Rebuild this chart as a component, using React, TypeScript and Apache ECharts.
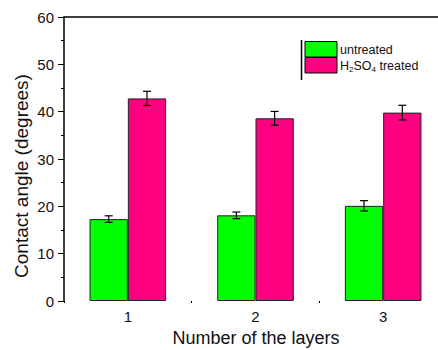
import React, { useEffect, useRef } from "react";
import * as echarts from "echarts";

const categories = ["1", "2", "3"];
const untreated = [17.3, 18.1, 20.1];
const untreatedErr = [0.7, 0.7, 1.1];
const treated = [42.8, 38.6, 39.8];
const treatedErr = [1.5, 1.45, 1.55];
const yTicks = { min: 0, max: 60, interval: 10 };

const GREEN = "#00ff00";
const PINK = "#ff0080";
const FONT = "Liberation Sans, Arial, sans-serif";

function errData(vals: number[], errs: number[]) {
  return vals.map((v, i) => [i, v, errs[i]]);
}

function makeErrRender(offsetFrac: number) {
  return (params: any, api: any) => {
    const idx = api.value(0);
    const v = api.value(1);
    const e = api.value(2);
    const band = api.size([1, 0])[0];
    const c = api.coord([idx, v]);
    const x = c[0] + offsetFrac * band;
    const yt = api.coord([idx, v + e])[1];
    const yb = api.coord([idx, v - e])[1];
    const cap = 4;
    const style = { stroke: "#000", lineWidth: 1.2 };
    return {
      type: "group",
      children: [
        { type: "line", shape: { x1: x, y1: yt, x2: x, y2: yb }, style },
        { type: "line", shape: { x1: x - cap, y1: yt, x2: x + cap, y2: yt }, style },
        { type: "line", shape: { x1: x - cap, y1: yb, x2: x + cap, y2: yb }, style },
      ],
    };
  };
}

export default function App() {
  const ref = useRef<HTMLDivElement>(null);
  useEffect(() => {
    if (!ref.current) return;
    const chart = echarts.init(ref.current, null, { renderer: "svg" });
    const barW = "30%";
    chart.setOption({
      animation: false,
      backgroundColor: "#fff",
      grid: {
        left: 64,
        width: 383,
        top: 17,
        height: 284,
        containLabel: false,
        outerBoundsMode: "none",
      },
      xAxis: [
        {
          type: "category",
          data: categories,
          axisLine: { show: false },
          axisTick: { show: true, length: 2, lineStyle: { color: "#000" } },
          axisLabel: { fontSize: 15, color: "#111", margin: 8, fontFamily: FONT },
        },
        {
          type: "category",
          position: "top",
          data: categories,
          axisLine: { show: true, lineStyle: { color: "#000", width: 1.5 } },
          axisTick: { show: false },
          axisLabel: { show: false },
        },
      ],
      yAxis: {
        type: "value",
        min: yTicks.min,
        max: yTicks.max,
        interval: yTicks.interval,
        splitLine: { show: false },
        axisLine: { show: true, lineStyle: { color: "#000", width: 1.5 } },
        axisTick: { show: true, length: 6, lineStyle: { color: "#000" } },
        minorTick: { show: true, splitNumber: 2, length: 3, lineStyle: { color: "#000" } },
        axisLabel: { fontSize: 15, color: "#111", margin: 10, fontFamily: FONT },
      },
      series: [
        {
          type: "bar",
          name: "untreated",
          data: untreated,
          barWidth: barW,
          barGap: "0%",
          itemStyle: { color: GREEN, borderColor: "#222", borderWidth: 1 },
        },
        {
          type: "bar",
          name: "treated",
          data: treated,
          barWidth: barW,
          barGap: "0%",
          itemStyle: { color: PINK, borderColor: "#222", borderWidth: 1 },
        },
        {
          type: "custom",
          data: errData(untreated, untreatedErr),
          encode: { x: 0, y: 1 },
          renderItem: makeErrRender(-0.15),
          z: 10,
        },
        {
          type: "custom",
          data: errData(treated, treatedErr),
          encode: { x: 0, y: 1 },
          renderItem: makeErrRender(0.15),
          z: 10,
        },
      ],
      graphic: [
        {
          type: "text",
          x: 21,
          y: 176,
          rotation: Math.PI / 2,
          style: {
            text: "Contact angle (degrees)",
            fontSize: 19,
            fontFamily: FONT,
            fill: "#111",
            align: "center",
            verticalAlign: "middle",
          },
        },
        {
          type: "text",
          x: 256,
          y: 338,
          style: {
            text: "Number of the layers",
            fontSize: 18,
            fontFamily: FONT,
            fill: "#111",
            align: "center",
            verticalAlign: "middle",
          },
        },
        {
          type: "line",
          shape: { x1: 301.5, y1: 40, x2: 301.5, y2: 80 },
          style: { stroke: "#000", lineWidth: 1.5 },
        },
        {
          type: "rect",
          shape: { x: 305, y: 41.5, width: 32, height: 15.5 },
          style: { fill: GREEN, stroke: "#000", lineWidth: 1 },
        },
        {
          type: "rect",
          shape: { x: 305, y: 57.5, width: 32, height: 15.5 },
          style: { fill: PINK, stroke: "#000", lineWidth: 1 },
        },
        {
          type: "text",
          x: 340,
          y: 50,
          style: {
            text: "untreated",
            fontSize: 12.5,
            fontFamily: FONT,
            fill: "#111",
            verticalAlign: "middle",
          },
        },
        {
          type: "text",
          x: 340,
          y: 66,
          style: {
            text: "H{s|2}SO{s|4} treated",
            fontSize: 12.5,
            fontFamily: FONT,
            fill: "#111",
            verticalAlign: "middle",
            rich: {
              s: { fontSize: 8, fontFamily: FONT, fill: "#111", padding: [6, 0, 0, 0] },
            },
          },
        },
      ],
    });
    return () => chart.dispose();
  }, []);
  return (
    <div
      ref={ref}
      style={{ position: "fixed", left: 0, top: 0, width: 438, height: 350 }}
    />
  );
}
